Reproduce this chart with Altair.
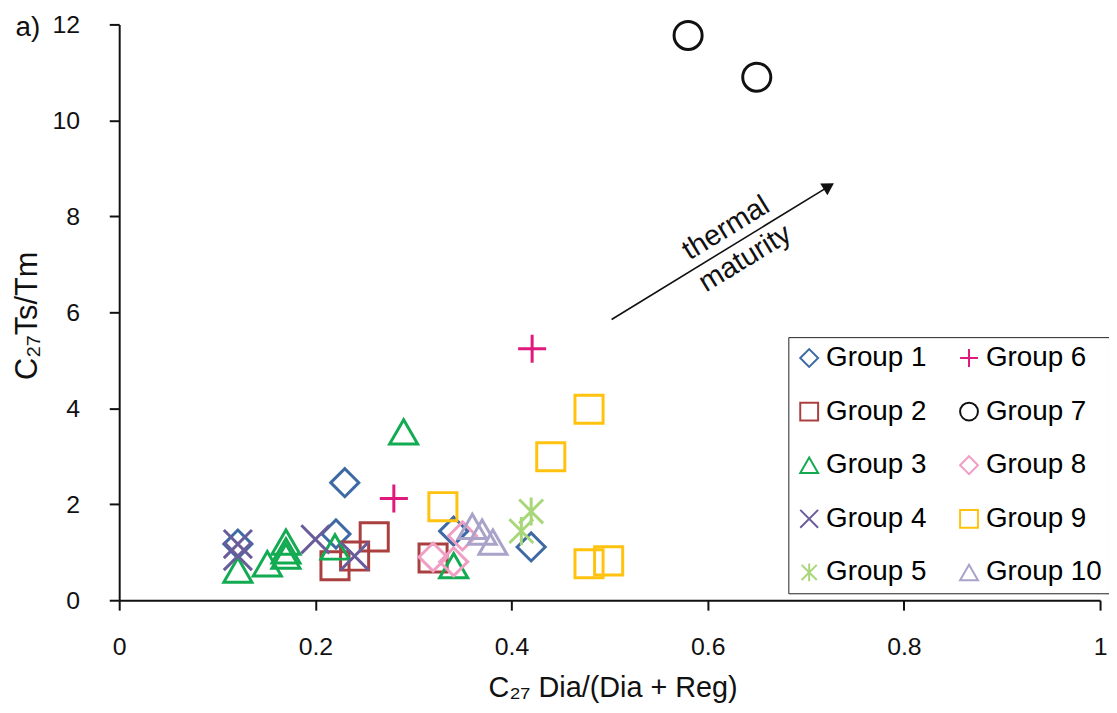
import altair as alt
import pandas as pd

FONT = "Liberation Sans"

# ---- data ----
group_names = ["Group 1", "Group 2", "Group 3", "Group 4", "Group 5",
               "Group 6", "Group 7", "Group 8", "Group 9", "Group 10"]

g1_x = [0.23, 0.221, 0.121, 0.341, 0.42]
g1_y = [2.45, 1.38, 1.17, 1.44, 1.11]

g2_x = [0.26, 0.24, 0.22, 0.32]
g2_y = [1.32, 0.92, 0.72, 0.88]

g3_x = [0.29, 0.121, 0.151, 0.17, 0.17, 0.17, 0.22, 0.341]
g3_y = [3.51, 0.63, 0.76, 1.21, 1.03, 0.92, 1.11, 0.72]

g4_x = [0.121, 0.121, 0.20, 0.24]
g4_y = [1.17, 0.92, 1.27, 0.92]

g5_x = [0.42, 0.41]
g5_y = [1.85, 1.44]

g6_x = [0.28, 0.421]
g6_y = [2.12, 5.24]

g7_x = [0.58, 0.65]
g7_y = [11.77, 10.9]

g8_x = [0.32, 0.341, 0.35]
g8_y = [0.90, 0.80, 1.34]

g9_x = [0.479, 0.44, 0.33, 0.479, 0.499]
g9_y = [3.98, 2.99, 1.95, 0.76, 0.82]

g10_x = [0.36, 0.37, 0.381]
g10_y = [1.54, 1.42, 1.21]

xs = [g1_x, g2_x, g3_x, g4_x, g5_x, g6_x, g7_x, g8_x, g9_x, g10_x]
ys = [g1_y, g2_y, g3_y, g4_y, g5_y, g6_y, g7_y, g8_y, g9_y, g10_y]

group_colors = ["#3d6aa5", "#a9403f", "#13ab52", "#6a5b9b", "#a8d77a",
                "#e0197d", "#111111", "#f09ec4", "#ffc20e", "#a9a2c9"]
group_shapes = ["diamond", "square", "triangle-up",
                "M-1,-1L1,1M-1,1L1,-1",
                "M0,-1L0,1M-0.85,-0.85L0.85,0.85M-0.85,0.85L0.85,-0.85",
                "M0,-1L0,1M-1,0L1,0",
                "circle", "diamond", "square", "triangle-up"]

x_ticks = [0, 0.2, 0.4, 0.6, 0.8, 1]
y_ticks = [0, 2, 4, 6, 8, 10, 12]

# arrow (data coordinates)
arrow_start = [0.502, 5.85]
arrow_head = [0.7235, 8.626]
arrow_label_text = ["thermal", "maturity"]
arrow_label_x = [0.6185, 0.638]
arrow_label_y = [7.76, 7.13]

rows = []
for name, gx, gy in zip(group_names, xs, ys):
    for a, b in zip(gx, gy):
        rows.append({"group": name, "x": a, "y": b})
df = pd.DataFrame(rows)

x_axis = alt.Axis(values=x_ticks, format="~g", title="C₂₇ Dia/(Dia + Reg)",
                  titleX=497, titleY=97, titleAlign="center",
                  titleBaseline="alphabetic", labelPadding=25)
y_axis = alt.Axis(values=y_ticks, title="C₂₇Ts/Tm",
                  titleX=-92, titleY=293, titleAlign="center",
                  titleBaseline="middle", titleAngle=270, labelPadding=30)

xsc = alt.Scale(domain=[0, 1], nice=False, zero=False)
ysc = alt.Scale(domain=[0, 12], nice=False, zero=False)


def X(field="x"):
    return alt.X(f"{field}:Q", scale=xsc, axis=x_axis)


def Y(field="y"):
    return alt.Y(f"{field}:Q", scale=ysc, axis=y_axis)


leg = alt.Legend(title=None, orient="none", legendX=674, legendY=315,
                 columns=2, direction="vertical", strokeColor="#222222",
                 fillColor="white", padding=7, labelFontSize=28,
                 labelFont=FONT, labelColor="black", symbolSize=324,
                 symbolStrokeWidth=2, labelOffset=3, rowPadding=26,
                 columnPadding=28, symbolOpacity=1)

points = alt.Chart(df).mark_point(filled=False, size=800, strokeWidth=3,
                                  opacity=1).encode(
    x=X(), y=Y(),
    color=alt.Color("group:N",
                    scale=alt.Scale(domain=group_names, range=group_colors),
                    legend=leg),
    shape=alt.Shape("group:N",
                    scale=alt.Scale(domain=group_names, range=group_shapes),
                    legend=leg),
)

arrow_df = pd.DataFrame({"x": [arrow_start[0]], "y": [arrow_start[1]],
                         "x2": [arrow_head[0]], "y2": [arrow_head[1]]})
arrow_line = alt.Chart(arrow_df).mark_rule(color="#111111", strokeWidth=1.6).encode(
    x=X(), y=Y(), x2="x2:Q", y2="y2:Q")

head_df = pd.DataFrame({"x": [arrow_head[0]], "y": [arrow_head[1]]})
arrow_tip = alt.Chart(head_df).mark_point(
    shape="triangle-right", filled=True, color="#111111", size=190,
    angle=328.5, opacity=1, strokeWidth=0).encode(x=X(), y=Y())

label_df = pd.DataFrame({"x": arrow_label_x, "y": arrow_label_y,
                         "t": arrow_label_text})
arrow_text = alt.Chart(label_df).mark_text(
    angle=328.5, fontSize=29, font=FONT, color="#111111",
    align="center", baseline="middle").encode(x=X(), y=Y(), text="t:N")

panel_df = pd.DataFrame({"t": ["a)"]})
panel_label = alt.Chart(panel_df).mark_text(
    fontSize=28, font=FONT, color="#111111", align="center",
    baseline="alphabetic").encode(x=alt.value(-92), y=alt.value(12),
                                  text="t:N")

chart = alt.layer(points, arrow_line, arrow_tip, arrow_text, panel_label).properties(
    width=988, height=580,
    autosize=alt.AutoSizeParams(type="none"),
    padding={"left": 112, "top": 14, "right": 9, "bottom": 103},
).configure(font=FONT).configure_view(stroke=None).configure_axis(
    grid=False, domainColor="#111111", domainWidth=2, tickColor="#111111",
    tickWidth=2, tickSize=10, labelFontSize=25, labelColor="#111111",
    labelFont=FONT, titleFont=FONT, titleFontWeight="normal",
    titleColor="#111111", labelFlush=False, labelOverlap=False,
).configure_axisX(titleFontSize=29).configure_axisY(titleFontSize=31)

chart.save("out.html", embed_options={"renderer": "svg", "actions": False})
